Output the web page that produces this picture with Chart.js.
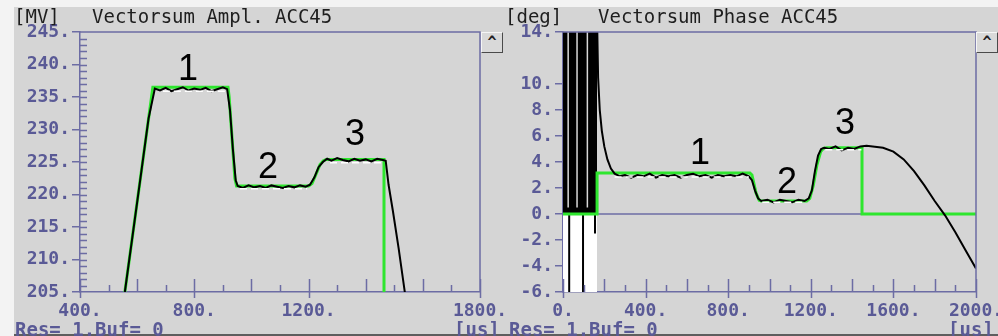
<!DOCTYPE html>
<html>
<head>
<meta charset="utf-8">
<script src="https://cdn.jsdelivr.net/npm/chart.js@4.4.0/dist/chart.umd.min.js"></script>
<style>
body{margin:0;width:998px;height:336px;overflow:hidden;background:#f3f3f3;position:relative;font-family:"DejaVu Sans Mono",monospace}
#panel{position:absolute;left:14px;top:7px;width:984px;height:329px;background:#d5d5d5}
#edge{position:absolute;left:14px;top:334px;width:984px;height:2px;background:#5e5e5e}
canvas{position:absolute;left:0;top:0}
.t{position:absolute;white-space:pre;line-height:1}
.title{font-size:19px;color:#1e1e1e;top:7px}
.info{font-size:19px;font-weight:bold;color:#5a5a96;top:320px}
.num{font-family:"Liberation Sans",Arial,sans-serif;font-size:36px;color:#000;transform:translate(-50%,-50%)}
.btn{position:absolute;top:32px;width:20px;height:19px;background:#d9d9d9;border:1px solid #4a4a4a;border-top-color:#f6f6f6;border-left-color:#f6f6f6;font:bold 15px "DejaVu Sans Mono",monospace;color:#222;text-align:center;line-height:19px}
</style>
</head>
<body>
<div id="panel"></div>
<div id="edge"></div>
<canvas id="ampChart" width="998" height="336"></canvas>
<canvas id="phaseChart" width="998" height="336"></canvas>

<div class="t title" style="left:14px">[MV]</div>
<div class="t title" style="left:92px">Vectorsum Ampl. ACC45</div>
<div class="t title" style="left:505px">[deg]</div>
<div class="t title" style="left:598px">Vectorsum Phase ACC45</div>
<div class="t info" style="left:15px">Res= 1.Buf= 0</div>
<div class="t info" style="left:454px">[us]</div>
<div class="t info" style="left:509px">Res= 1.Buf= 0</div>
<div class="t info" style="left:948px">[us]</div>
<div class="btn" style="left:481px">^</div>
<div class="btn" style="left:976px">^</div>

<div class="t num" style="left:188px;top:68px">1</div>
<div class="t num" style="left:268px;top:166px">2</div>
<div class="t num" style="left:355px;top:133px">3</div>
<div class="t num" style="left:700px;top:152px">1</div>
<div class="t num" style="left:787px;top:181px">2</div>
<div class="t num" style="left:845px;top:122px">3</div>

<script>
// tick labels
const ampXLabels = [400, 800, 1200, 1800];
const ampYLabels = [205, 210, 215, 220, 225, 230, 235, 240, 245];
const phaseXLabels = [0, 400, 800, 1200, 1600, 2000];
const phaseYLabels = [-6, -4, -2, 0, 2, 4, 6, 8, 10, 14];

// amplitude: setpoint (green)
const ampSetT = [557, 655, 918, 922, 942, 948, 1200, 1212, 1225, 1240, 1252, 1262, 1464, 1464];
const ampSetV = [205, 236.5, 236.5, 235, 222.5, 221.3, 221.3, 221.7, 223.0, 224.6, 225.2, 225.4, 225.4, 200];

// amplitude: measured (black)
const ampMeasT = [557, 600, 640, 662, 680, 700, 720, 740, 760, 780, 800, 820, 840, 860, 880, 900, 915,
  925, 935, 945, 952, 970, 990, 1010, 1030, 1050, 1070, 1090, 1110, 1130, 1150, 1170, 1190,
  1205, 1220, 1235, 1250, 1265, 1280, 1300, 1320, 1340, 1360, 1380, 1400, 1420, 1440, 1460,
  1470, 1480, 1495, 1515, 1540];
const ampMeasV = [205, 218.8, 231.7, 236.3, 236.0, 236.4, 235.9, 236.2, 236.5, 236.0, 236.3, 236.1, 236.4, 235.9, 236.2, 236.5, 236.2,
  233, 227, 222.2, 221.3, 221.0, 221.4, 221.1, 221.3, 221.0, 221.4, 221.2, 221.0, 221.3, 221.1, 221.4, 221.2,
  221.5, 222.6, 224.2, 225.0, 225.5, 225.2, 225.6, 225.3, 225.1, 225.5, 225.2, 225.4, 225.1, 225.5, 225.3,
  225.2, 221.5, 217.5, 211.8, 204];

// amplitude: second trace (white)
const ampWhiteT = [690, 910, 935, 960, 1195, 1235, 1275, 1460];
const ampWhiteV = [235.9, 235.9, null, 220.9, 220.9, null, 224.9, 224.9];

// phase: setpoint (green)
const phSetT = [0, 165, 165, 905, 915, 935, 950, 960, 1180, 1195, 1212, 1230, 1248, 1262, 1275, 1448, 1448, 2000];
const phSetV = [0, 0, 3.15, 3.15, 3.0, 1.6, 1.05, 1.0, 1.0, 1.2, 2.2, 3.8, 4.8, 5.05, 5.1, 5.1, 0, 0];

// phase: measured (black)
const phMeasT = [165, 170, 178, 188, 200, 215, 232, 250, 275, 300, 330, 360, 390, 420, 450, 480, 510, 540,
  570, 600, 630, 660, 690, 720, 750, 780, 810, 840, 870, 900, 915, 930, 945, 960, 990, 1020, 1050,
  1080, 1110, 1140, 1170, 1190, 1205, 1220, 1235, 1250, 1265, 1290, 1320, 1350, 1380, 1410, 1440,
  1470, 1500, 1550, 1600, 1650, 1700, 1750, 1800, 1850, 1900, 1950, 2000];
const phMeasV = [15, 10.5, 8.0, 6.4, 5.2, 4.2, 3.5, 3.1, 2.9, 3.0, 2.8, 3.0, 2.9, 3.1, 2.8, 3.0, 2.9, 3.0,
  2.8, 3.0, 3.1, 2.9, 3.0, 2.8, 3.0, 2.9, 3.0, 2.9, 3.1, 2.9, 2.6, 1.8, 1.2, 1.0, 1.1, 0.9, 1.1,
  1.0, 0.9, 1.1, 1.0, 1.2, 1.8, 3.3, 4.5, 5.0, 5.1, 5.0, 5.2, 4.9, 5.1, 5.0, 5.2,
  5.25, 5.2, 5.1, 4.8, 4.2, 3.3, 2.2, 1.0, -0.1, -1.4, -2.8, -4.2];

// phase: second trace (white)
const phWhiteT = [250, 900, 930, 965, 1175, 1215, 1270, 1445];
const phWhiteV = [2.85, 2.85, null, 0.9, 0.9, null, 4.95, 4.95];

// phase: saturated start (0..165 us)
const phBlockT = [0, 165];
const phBlockHigh = [15, 15];
const phBlockLow = [-7, -7];
const phGapT = [25, 25, 26, 68, 68, 69, 118, 118];
const phGapV = [0.5, 15, null, 0.5, 15, null, 0.5, 15];
const phSpikeT = [30, 30, 31, 97, 97, 98, 155, 155];
const phSpikeV = [0, -7, null, 0, -7, null, 0, -1.5];

const AXIS = '#6c6ca4';
const LABEL = '#5a5a96';
const GREEN = '#2ee62e';
const tickFont = {family: 'DejaVu Sans Mono', size: 18, weight: 'bold'};

const pts = (t, v) => t.map((x, i) => ({x: x, y: v[i]}));

function line(t, v, color, width, order, extra) {
  return Object.assign({
    data: pts(t, v), borderColor: color, borderWidth: width, pointRadius: 0,
    tension: 0, spanGaps: false, fill: false, order: order, clip: 0
  }, extra || {});
}

const frameTicks = {
  id: 'frameTicks',
  beforeDatasetsDraw(chart, args, opts) {
    if (!opts.zeroLine) return;
    const {ctx, chartArea: a, scales: {y}} = chart;
    const py = y.getPixelForValue(0);
    ctx.save();
    ctx.strokeStyle = AXIS; ctx.lineWidth = 1.5;
    ctx.beginPath(); ctx.moveTo(a.left, py); ctx.lineTo(a.right, py); ctx.stroke();
    ctx.restore();
  },
  afterDraw(chart, args, opts) {
    const {ctx, chartArea: a, scales: {x, y}} = chart;
    ctx.save();
    ctx.strokeStyle = AXIS; ctx.lineWidth = 1.5;
    ctx.beginPath();
    ctx.moveTo(a.left, a.top); ctx.lineTo(a.right, a.top); ctx.lineTo(a.right, a.bottom);
    (opts.yMinor || []).forEach(v => {
      const py = Math.round(y.getPixelForValue(v)) + 0.5;
      ctx.moveTo(a.left, py); ctx.lineTo(a.left + 7, py);
    });
    for (let v = x.min; v <= x.max; v += 100) {
      const px = Math.round(x.getPixelForValue(v)) + 0.5;
      const labelled = opts.xLabels.includes(v);
      const up = (labelled || v % 200 === 0) ? 13 : 7;
      ctx.moveTo(px, a.bottom - up);
      ctx.lineTo(px, a.bottom + (labelled ? 6 : 0));
    }
    ctx.stroke();
    ctx.restore();
  }
};

function xAxis(min, max, labels) {
  return {
    type: 'linear', min: min, max: max,
    afterBuildTicks: s => { s.ticks = labels.map(v => ({value: v})); },
    afterFit: s => { s.height = 44; s.paddingLeft = 0; s.paddingRight = 0; },
    ticks: {callback: v => v + '.', font: tickFont, color: LABEL, padding: 9, maxRotation: 0, autoSkip: false},
    grid: {display: false, drawTicks: false},
    border: {display: true, color: AXIS, width: 1.5}
  };
}

function yAxis(min, max, labels, width) {
  return {
    type: 'linear', min: min, max: max,
    afterBuildTicks: s => { s.ticks = labels.map(v => ({value: v})); },
    afterFit: s => { s.width = width; s.paddingTop = 0; s.paddingBottom = 0; },
    ticks: {callback: v => v + '.', font: tickFont, color: LABEL, padding: 2, autoSkip: false},
    grid: {drawOnChartArea: false, drawTicks: true, tickLength: 8, color: AXIS, lineWidth: 1.5},
    border: {display: true, color: AXIS, width: 1.5}
  };
}

const baseOpts = {
  responsive: false, animation: false, devicePixelRatio: 1,
  plugins: {legend: {display: false}, tooltip: {enabled: false}}
};

const ampYMinor = [];
for (let v = 206; v < 245; v++) ampYMinor.push(v);

new Chart(document.getElementById('ampChart'), {
  type: 'line',
  data: {datasets: [
    line(ampSetT, ampSetV, GREEN, 3, 3),
    line(ampMeasT, ampMeasV, '#000', 2, 2),
    line(ampWhiteT, ampWhiteV, '#ffffff', 1.5, 1, {borderDash: [7, 4]})
  ]},
  options: Object.assign({}, baseOpts, {
    layout: {padding: {left: 0, top: 32, right: 518, bottom: 0}},
    scales: {x: xAxis(400, 1800, ampXLabels), y: yAxis(205, 245, ampYLabels, 80)},
    plugins: Object.assign({}, baseOpts.plugins, {
      frameTicks: {xLabels: ampXLabels, yMinor: ampYMinor}
    })
  }),
  plugins: [frameTicks]
});

new Chart(document.getElementById('phaseChart'), {
  type: 'line',
  data: {datasets: [
    line(phBlockT, phBlockLow, 'rgba(0,0,0,0)', 0, 9, {fill: 'origin', backgroundColor: '#ffffff'}),
    line(phBlockT, phBlockHigh, 'rgba(0,0,0,0)', 0, 8, {fill: 'origin', backgroundColor: '#000000'}),
    line(phGapT, phGapV, '#d8d8d8', 1.5, 7),
    line(phSpikeT, phSpikeV, '#000', 2, 6),
    line(phSetT, phSetV, GREEN, 3, 3),
    line(phMeasT, phMeasV, '#000', 2, 2),
    line(phWhiteT, phWhiteV, '#ffffff', 1.5, 1, {borderDash: [7, 4]})
  ]},
  options: Object.assign({}, baseOpts, {
    layout: {padding: {left: 503, top: 32, right: 22, bottom: 0}},
    scales: {x: xAxis(0, 2000, phaseXLabels), y: yAxis(-6, 14, phaseYLabels, 60)},
    plugins: Object.assign({}, baseOpts.plugins, {
      frameTicks: {xLabels: phaseXLabels, zeroLine: true}
    })
  }),
  plugins: [frameTicks]
});
</script>
</body>
</html>
